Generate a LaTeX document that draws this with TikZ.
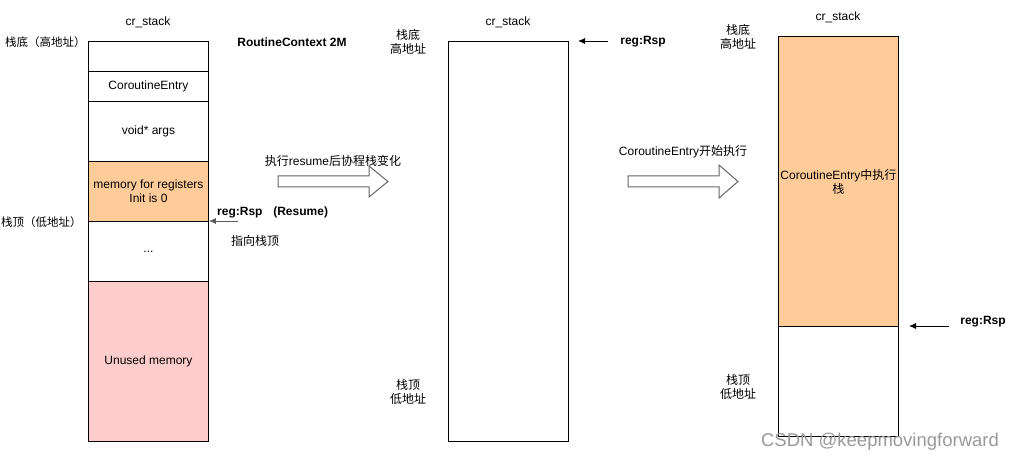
\documentclass[tikz,border=0pt]{standalone}
\usepackage{fontspec}
\setmainfont{Liberation Sans}
\newfontfamily\cjk{Noto Sans CJK SC}
\usetikzlibrary{arrows.meta}
\definecolor{orangefill}{HTML}{FFCC99}
\definecolor{pinkfill}{HTML}{FFCCCC}
\begin{document}
\begin{tikzpicture}[x=1pt,y=-1pt,
  every node/.style={font=\fontsize{12}{14}\selectfont, inner sep=0pt, align=center},
  cell/.style={draw=black, line width=0.9pt, minimum width=120pt, anchor=north west},
  lbl/.style={font=\fontsize{12}{14}\selectfont\cjk},
  reg/.style={font=\fontsize{12}{14}\selectfont\bfseries},
  ptr/.style={-{Latex[length=7pt,width=6pt]}, line width=0.9pt},
  blockarrow/.style={draw=black!60, line width=1pt, fill=white}
]
\useasboundingbox (0,0) rectangle (1014,462);
% ---------- left stack ----------
\node[cell, minimum height=30pt] (l1) at (88,41) {};
\node[cell, minimum height=30pt] (l2) at (88,71) {CoroutineEntry};
\node[cell, minimum height=60pt] (l3) at (88,101) {void* args};
\node[cell, minimum height=60pt, fill=orangefill] (l4) at (88,161) {memory for registers\\Init is 0};
\node[cell, minimum height=60pt] (l5) at (88,221) {...};
\node[cell, minimum height=160pt, fill=pinkfill] (l6) at (88,281) {Unused memory};
\node (lt) at (148,22) {cr\_stack};
\node[lbl, anchor=west, font=\fontsize{11.5}{14}\selectfont\cjk] (lhi) at (5,42) {栈底（高地址）};
\node[lbl, anchor=west, font=\fontsize{11.5}{14}\selectfont\cjk] (llo) at (1,222) {栈顶（低地址）};
\node[reg] (rc) at (292,42) {RoutineContext 2M};
\node[reg, anchor=west] (lrsp) at (217,212) {reg:Rsp\hspace{0.9em}(Resume)};
\node[lbl] (ltop) at (255,241) {指向栈顶};
\coordinate (lrs) at (238,221);
\draw[ptr, draw=black!65] (lrs) -- (l5.north east);
% ---------- block arrow 1 ----------
\draw[blockarrow] (278,176) -- (369,176) -- (369,166) -- (388,181.5) -- (369,197) -- (369,187) -- (278,187) -- cycle;
\node[lbl] (a1) at (333,161) {执行{\fontspec{Liberation Sans}resume}后协程栈变化};
% ---------- middle stack ----------
\node[cell, minimum height=400pt] (m1) at (448,41) {};
\node (mt) at (508,22) {cr\_stack};
\node[lbl] (mhi) at (408,42) {栈底\\高地址};
\node[lbl] (mlo) at (408,392) {栈顶\\低地址};
\node[reg] (mrsp) at (643,42) {reg:Rsp};
\coordinate (mrs) at (608,41);
\draw[ptr] (mrs) -- (578,41);
% ---------- block arrow 2 ----------
\draw[blockarrow] (628,176) -- (719,176) -- (719,165) -- (738,181.5) -- (719,198) -- (719,187) -- (628,187) -- cycle;
\node (a2) at (683,152) {CoroutineEntry{\cjk 开始执行}};
% ---------- right stack ----------
\node[cell, minimum height=290pt, fill=orangefill] (r1) at (778,36) {CoroutineEntry{\cjk 中执行}\\{\cjk 栈}};
\node[cell, minimum height=110pt] (r2) at (778,326) {};
\node (rt) at (838,17) {cr\_stack};
\node[lbl] (rhi) at (738,37) {栈底\\高地址};
\node[lbl] (rlo) at (738,387) {栈顶\\低地址};
\node[reg] (rrsp) at (983,322) {reg:Rsp};
\coordinate (rrs) at (949,326);
\draw[ptr] (rrs) -- (909,326);
% watermark
\node[font=\fontsize{18.5}{20}\selectfont, text=black!40] (wm) at (880,442) {CSDN @keepmovingforward};
\end{tikzpicture}
\end{document}
